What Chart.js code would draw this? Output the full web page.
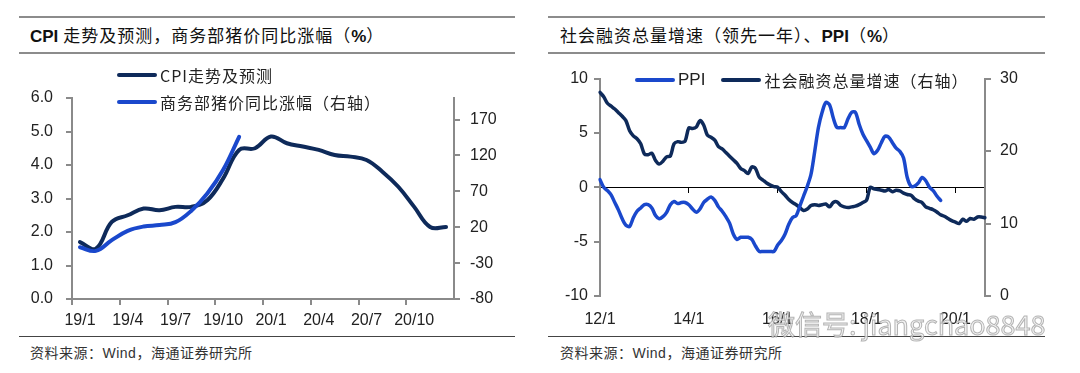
<!DOCTYPE html>
<html>
<head>
<meta charset="utf-8">
<script src="https://cdn.jsdelivr.net/npm/chart.js@4.4.0/dist/chart.umd.min.js"></script>
<style>
  body { margin: 0; width: 1080px; height: 373px; background: #fff; position: relative; overflow: hidden; font-family: "Liberation Sans", Arial, sans-serif; color: #222; }
  .rule { position: absolute; height: 2px; background: #8c8c8c; }
  .rule.thin { height: 1px; background: #444; }
  .title { position: absolute; top: 24px; font-size: 17px; line-height: 22px; font-family: "Noto Sans CJK SC", sans-serif; letter-spacing: 1px; white-space: nowrap; color: #111; }
  .title b { font-family: "Liberation Sans", Arial, sans-serif; font-weight: bold; letter-spacing: 0; }
  .note { position: absolute; top: 344px; font-size: 14px; line-height: 17px; font-family: "Noto Sans CJK SC", sans-serif; letter-spacing: 0.5px; color: #333; white-space: nowrap; }
  .note span { font-family: "Liberation Sans", Arial, sans-serif; }
  .box { position: absolute; top: 60px; width: 540px; height: 275px; }
  .leg { position: absolute; height: 22px; line-height: 22px; font-family: "Noto Sans CJK SC", sans-serif; font-size: 16px; letter-spacing: 1px; white-space: nowrap; display: flex; align-items: center; color: #222; }
  .leg i { display: inline-block; width: 40px; height: 4px; border-radius: 2px; margin-right: 3px; }
  .leg .lat { font-family: "Liberation Sans", Arial, sans-serif; font-size: 17px; letter-spacing: 0; }
  .wm { position: absolute; left: 768px; top: 304px; font-family: "Noto Sans CJK SC", sans-serif; font-size: 27px; color: rgba(240,240,240,0.8); -webkit-text-stroke: 1px rgba(150,150,150,0.7); white-space: nowrap; }
</style>
</head>
<body>
<div class="rule" style="left:19px;top:16px;width:496px"></div>
<div class="rule" style="left:19px;top:52px;width:496px"></div>
<div class="rule thin" style="left:19px;top:336px;width:496px"></div>
<div class="title" style="left:30px"><b>CPI</b> 走势及预测，商务部猪价同比涨幅（<b>%</b>）</div>
<div class="note" style="left:30px">资料来源：<span>Wind</span>，海通证券研究所</div>

<div class="rule" style="left:548px;top:16px;width:497px"></div>
<div class="rule" style="left:548px;top:52px;width:497px"></div>
<div class="rule thin" style="left:548px;top:336px;width:497px"></div>
<div class="title" style="left:560px">社会融资总量增速（领先一年）、<b>PPI</b>（<b>%</b>）</div>
<div class="note" style="left:560px">资料来源：<span>Wind</span>，海通证券研究所</div>

<div class="box" style="left:0"><canvas id="cpiChart" width="540" height="275"></canvas></div>
<div class="box" style="left:540px"><canvas id="ppiChart" width="540" height="275"></canvas></div>

<div class="leg" style="left:117px;top:64px"><i style="background:#0e2a5a"></i>CPI走势及预测</div>
<div class="leg" style="left:117px;top:91px"><i style="background:#1a48cc"></i>商务部猪价同比涨幅（右轴）</div>
<div class="leg" style="left:635px;top:69px"><i style="background:#1a48cc"></i><span class="lat">PPI</span><span style="display:inline-block;width:16px"></span><i style="background:#0e2a5a"></i>社会融资总量增速（右轴）</div>

<div class="wm">微信号: jiangchao8848</div>

<script>
// CPI chart data
const cpiMonths = ['19/1','19/2','19/3','19/4','19/5','19/6','19/7','19/8','19/9','19/10','19/11','19/12',
                   '20/1','20/2','20/3','20/4','20/5','20/6','20/7','20/8','20/9','20/10','20/11','20/12'];
const cpiValues = [1.7, 1.5, 2.3, 2.5, 2.7, 2.65, 2.75, 2.75, 2.95, 3.6, 4.45, 4.5,
                   4.85, 4.65, 4.55, 4.45, 4.3, 4.25, 4.15, 3.8, 3.35, 2.75, 2.15, 2.15];
const hogValues = [-8, -13, 2, 15, 21, 23, 27, 43, 67, 100, 146];
const cpiTicks = [0, 1, 2, 3, 4, 5, 6];
const hogTicks = [-80, -30, 20, 70, 120, 170];

// PPI / social financing chart data
const tsfMonths = [];
for (let y = 12; y <= 20; y++) {
  for (let m = 1; m <= 12; m++) {
    if (y === 20 && m > 9) break;
    tsfMonths.push(y + '/' + m);
  }
}
const ppiValues = [
  0.7, 0.0, -0.3, -0.7, -1.4, -2.1, -2.9, -3.5, -3.6, -2.8, -2.2, -1.9,
  -1.6, -1.6, -1.9, -2.6, -2.9, -2.7, -2.3, -1.6, -1.3, -1.5, -1.4, -1.4,
  -1.6, -2.0, -2.3, -2.0, -1.4, -1.1, -0.9, -1.2, -1.8, -2.2, -2.7, -3.3,
  -4.3, -4.8, -4.6, -4.6, -4.6, -4.8, -5.4, -5.9, -5.9, -5.9, -5.9, -5.9,
  -5.3, -4.9, -4.3, -3.4, -2.8, -2.6, -1.7, -0.8, 0.1, 1.2, 3.3, 5.5,
  6.9, 7.8, 7.6, 6.4, 5.5, 5.5, 5.5, 6.3, 6.9, 6.9, 5.8, 4.9,
  4.3, 3.7, 3.1, 3.4, 4.1, 4.7, 4.6, 4.1, 3.6, 3.3, 2.7, 0.9,
  0.1, 0.1, 0.4, 0.9, 0.6, 0.0, -0.3, -0.8, -1.2
];
const tsfValues = [
  28.1, 27.5, 26.6, 26.2, 25.8, 25.3, 24.8, 24.2, 22.8, 22.1,
  21.7, 21.0, 19.6, 19.5, 19.7, 18.7, 18.2, 18.6, 19.2, 19.3,
  21.0, 21.3, 21.2, 21.4, 23.2, 23.1, 23.3, 24.2, 23.6, 22.2,
  21.9, 21.5, 20.6, 20.3, 19.8, 19.3, 18.8, 18.3, 17.6, 17.3,
  16.9, 17.8, 17.6, 16.4, 16.0, 15.6, 15.3, 15.1, 15.0, 14.4,
  13.9, 13.3, 12.9, 12.6, 12.2, 11.8, 12.0, 12.5, 12.6, 12.5,
  12.6, 12.7, 12.3, 12.9, 13.0, 12.5, 12.3, 12.2, 12.3, 12.4,
  12.6, 12.9, 13.2, 15.0, 14.8, 14.7, 14.6, 14.5, 14.7, 14.4,
  14.6, 14.5, 14.2, 14.0, 13.9, 13.4, 13.1, 12.9, 12.3, 12.1,
  11.9, 11.6, 11.2, 11.0, 10.7, 10.4, 10.2, 10.0, 10.6, 10.3,
  10.7, 10.6, 10.9, 10.9, 10.8
];
const ppiTicks = [-10, -5, 0, 5, 10];
const tsfTicks = [0, 10, 20, 30];

const navy = '#0e2a5a';
const blue = '#1a48cc';
const axisGrey = '#8a8a8a';
const clear = 'rgba(0,0,0,0)';

Chart.defaults.font.family = '"Liberation Sans", Arial, sans-serif';
Chart.defaults.font.size = 16;
Chart.defaults.color = '#222';

const fixedTicks = list => scale => { scale.ticks = list.map(v => ({ value: v })); };

// left chart
new Chart(document.getElementById('cpiChart'), {
  type: 'line',
  data: {
    labels: cpiMonths,
    datasets: [
      { label: 'CPI走势及预测', data: cpiValues, yAxisID: 'y', borderColor: navy, borderWidth: 4,
        pointRadius: 0, tension: 0.4, borderCapStyle: 'round', borderJoinStyle: 'round', order: 1 },
      { label: '商务部猪价同比涨幅（右轴）', data: hogValues, yAxisID: 'y1', borderColor: blue, borderWidth: 4,
        pointRadius: 0, tension: 0.4, borderCapStyle: 'round', borderJoinStyle: 'round', order: 0 }
    ]
  },
  options: {
    responsive: false,
    animation: false,
    devicePixelRatio: 1,
    layout: { padding: { top: 38, left: 0, right: 0, bottom: 0 } },
    plugins: { legend: { display: false }, tooltip: { enabled: false } },
    scales: {
      x: {
        offset: true,
        grid: { offset: true, drawOnChartArea: false, tickLength: 6, lineWidth: 2,
                color: c => (c.index % 3 === 0 ? axisGrey : clear) },
        border: { color: axisGrey, width: 2 },
        ticks: { autoSkip: false, maxRotation: 0, padding: 6,
                 callback: (v, i) => (i % 3 === 0 ? cpiMonths[i] : '') },
        afterFit: s => { s.height = 36; }
      },
      y: {
        position: 'left', min: 0, max: 6,
        afterBuildTicks: fixedTicks(cpiTicks),
        grid: { drawOnChartArea: false, tickLength: 6, lineWidth: 2, color: axisGrey },
        border: { color: axisGrey, width: 2 },
        ticks: { padding: 13, callback: v => v.toFixed(1) },
        afterFit: s => { s.width = 72; }
      },
      y1: {
        position: 'right', min: -80, max: 200,
        afterBuildTicks: fixedTicks(hogTicks),
        grid: { drawOnChartArea: false, tickLength: 6, lineWidth: 2, color: axisGrey },
        border: { color: axisGrey, width: 2 },
        ticks: { padding: 10 },
        afterFit: s => { s.width = 86; }
      }
    }
  }
});

// right chart
new Chart(document.getElementById('ppiChart'), {
  type: 'line',
  data: {
    labels: tsfMonths,
    datasets: [
      { label: 'PPI', data: ppiValues, yAxisID: 'y', borderColor: blue, borderWidth: 3.5,
        pointRadius: 0, tension: 0.3, borderCapStyle: 'round', borderJoinStyle: 'round', order: 0 },
      { label: '社会融资总量增速（右轴）', data: tsfValues, yAxisID: 'y1', borderColor: navy, borderWidth: 3.5,
        pointRadius: 0, tension: 0.3, borderCapStyle: 'round', borderJoinStyle: 'round', order: 1 }
    ]
  },
  options: {
    responsive: false,
    animation: false,
    devicePixelRatio: 1,
    layout: { padding: { top: 18, left: 0, right: 0, bottom: 0 } },
    plugins: { legend: { display: false }, tooltip: { enabled: false } },
    scales: {
      x: {
        offset: false,
        grid: { display: false },
        border: { display: false },
        ticks: { autoSkip: false, maxRotation: 0, padding: 6,
                 callback: (v, i) => (i % 24 === 0 ? tsfMonths[i] : '') },
        afterFit: s => { s.height = 39; }
      },
      x2: {
        type: 'category',
        position: { y: 0 },
        offset: false,
        ticks: { display: false },
        grid: { drawOnChartArea: false, tickLength: 5, lineWidth: 1,
                color: c => (c.index % 24 === 0 ? '#000' : clear) },
        border: { color: '#000', width: 1 }
      },
      y: {
        position: 'left', min: -10, max: 10,
        afterBuildTicks: fixedTicks(ppiTicks),
        grid: { drawOnChartArea: false, tickLength: 6, lineWidth: 2, color: axisGrey },
        border: { color: axisGrey, width: 2 },
        ticks: { padding: 6 },
        afterFit: s => { s.width = 60; }
      },
      y1: {
        position: 'right', min: 0, max: 30,
        afterBuildTicks: fixedTicks(tsfTicks),
        grid: { drawOnChartArea: false, tickLength: 6, lineWidth: 2, color: axisGrey },
        border: { color: axisGrey, width: 2 },
        ticks: { padding: 9 },
        afterFit: s => { s.width = 95; }
      }
    }
  }
});
</script>
</body>
</html>
